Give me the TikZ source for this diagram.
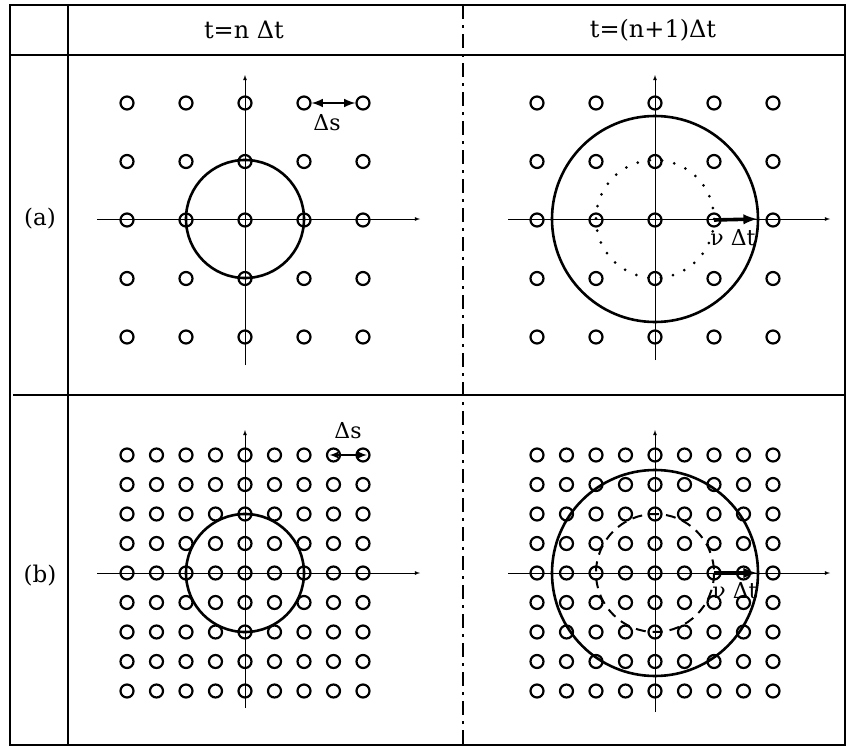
\documentclass[tikz,border=0pt]{standalone}
\usepackage{fontspec}
\setmainfont{DejaVu Serif}
\tikzset{>=latex}

\begin{document}
\begin{tikzpicture}[x=1pt, y=-1pt, >=latex,
		site/.style={circle, draw, line width=2.2pt, inner sep=0pt, minimum size=13pt},
		frame/.style={line width=2.6pt},
		axis/.style={->, line width=0.8pt},
		wave/.style={line width=2.6pt},
		advance/.style={->, line width=3.6pt},
		head/.style={font=\fontsize{24}{28}\selectfont},
		tag/.style={font=\fontsize{23}{27}\selectfont},
		small/.style={font=\fontsize{22}{26}\selectfont}]
	\useasboundingbox (0,0) rectangle (847,747);
	\pgfmathsetmacro{\D}{59}	% coarse spacing
	\pgfmathsetmacro{\d}{29.5}	% fine spacing
	\pgfmathsetmacro{\R}{103}	% radius after one step
	\pgfmathsetmacro{\r}{59}	% radius at t=n dt

	% the table
	\draw[frame] (10,5) rectangle (845,745);
	\draw[frame] (10,55) -- (845,55);
	\draw[frame] (13,395) -- (845,395);
	\draw[frame] (68,5) -- (68,745);
	\draw[frame, dash pattern=on 14pt off 6pt on 3pt off 6pt] (463,5) -- (463,745);

	% headers and row labels
	\node[head] (hn) at (244,30) {t=n Δt};
	\node[head] (hm) at (653,30) {t=(n+1)Δt};
	\node[tag] (ra) at (40,219) {(a)};
	\node[tag] (rb) at (40,576) {(b)};

	% (a), t=n dt
	\draw[axis] (97,219) -- (420,219);
	\draw[axis] (245,365) -- (245,75);
	\foreach \i in {0,...,4}
		\foreach \j in {0,...,4}
			\node[site] (al-\i-\j) at ({127+\D*\i},{103+58.5*\j}) {};
	\draw[wave] (245,219) circle (\r);
	\draw[<->, line width=2.8pt] (al-3-0) -- (al-4-0);
	\node[small] (dsa) at (327,123) {Δs};

	% (a), t=(n+1) dt
	\draw[axis] (508,219) -- (830,219);
	\draw[axis] (655,360) -- (655,75);
	\foreach \i in {0,...,4}
		\foreach \j in {0,...,4}
			\node[site] (ar-\i-\j) at ({537+\D*\i},{103+58.5*\j}) {};
	\draw[wave] (655,219) circle (\R);
	\draw[line width=3pt, line cap=round, dash pattern=on 0pt off 12.4pt] (655,219) circle (\r);
	\coordinate (va) at (757,219);
	\draw[advance] (ar-3-2.center) -- (va);
	\node[small] (nva) at (733,238) {ν Δt};

	% (b), t=n dt
	\draw[axis] (97,573) -- (420,573);
	\draw[axis] (245,708) -- (245,430);
	\foreach \i in {0,...,8}
		\foreach \j in {0,...,8}
			\node[site] (bl-\i-\j) at ({127+\d*\i},{455+\d*\j}) {};
	\draw[wave] (245,573) circle (\r);
	\draw[<->, line width=2pt, shorten <=-4pt, shorten >=-4pt] (bl-7-0.center) -- (bl-8-0.center);
	\node[small] (dsb) at (348,431) {Δs};

	% (b), t=(n+1) dt
	\draw[axis] (508,573) -- (830,573);
	\draw[axis] (655,712) -- (655,430);
	\foreach \i in {0,...,8}
		\foreach \j in {0,...,8}
			\node[site] (br-\i-\j) at ({537+\d*\i},{455+\d*\j}) {};
	\draw[wave] (655,573) circle (\R);
	\draw[line width=2pt, dash pattern=on 10pt off 7pt] (655,573) circle (\r);
	\coordinate (vb) at (757,573);
	\draw[advance] (br-6-4.center) -- (vb);
	\node[small] (nvb) at (735,591) {ν Δt};
\end{tikzpicture}
\end{document}
